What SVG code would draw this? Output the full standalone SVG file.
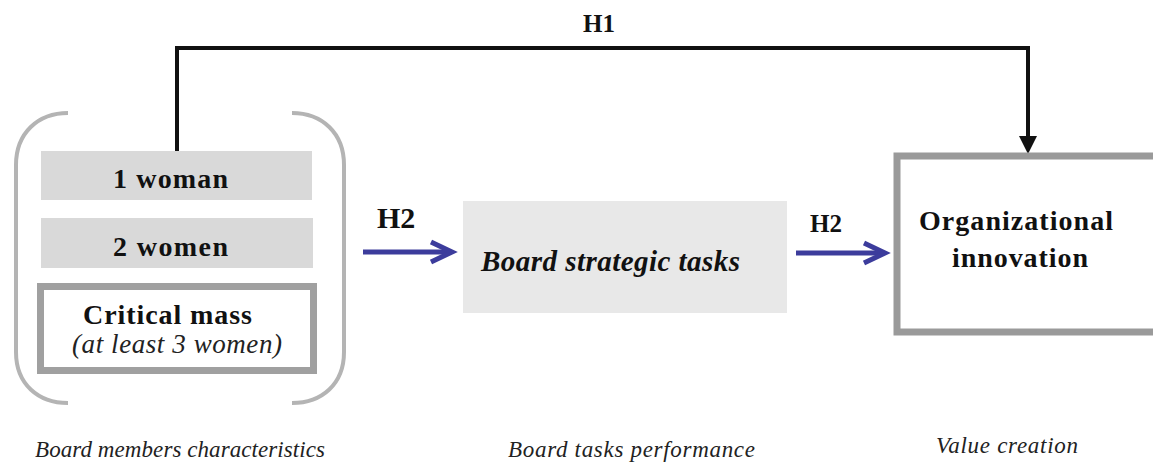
<svg xmlns="http://www.w3.org/2000/svg" width="1153" height="463" viewBox="0 0 1153 463">
<style>
.b{font-family:"Liberation Serif","Times New Roman",serif;font-weight:bold;fill:#111}
.bi{font-family:"Liberation Serif","Times New Roman",serif;font-weight:bold;font-style:italic;fill:#111}
.i{font-family:"Liberation Serif","Times New Roman",serif;font-style:italic;fill:#222}
.blue{stroke:#3c3c9c;stroke-width:5;fill:none}
.grey{fill:#d9d9d9}
</style>
<rect width="1153" height="463" fill="#fff"/>
<g id="connectors">
<polyline points="177,151 177,48 1028,48 1028,138" fill="none" stroke="#111" stroke-width="4"/>
<polygon points="1019,136 1037,136 1028,154" fill="#111"/>
<line x1="363" y1="252" x2="451" y2="252" class="blue"/>
<polyline points="431,242 452,252 431,262" class="blue"/>
<line x1="796" y1="253" x2="884" y2="253" class="blue"/>
<polyline points="864,243 885,253 864,263" class="blue"/>
<text x="583" y="32" class="b" font-size="25">H1</text>
<text x="377" y="228" class="b" font-size="30">H2</text>
<text x="810" y="232" class="b" font-size="25">H2</text>
</g>
<g id="board-members">
<path d="M68,113 C38,113 16,133 16,165 L16,352 C16,384 38,403 68,403" fill="none" stroke="#b4b4b4" stroke-width="4"/>
<path d="M292,113 C322,113 344,133 344,165 L344,352 C344,384 322,403 292,403" fill="none" stroke="#b4b4b4" stroke-width="4"/>
</g>
<g id="one-woman">
<rect x="41" y="151" width="271" height="49" class="grey"/>
<text x="113" y="188" class="b" font-size="28" textLength="115">1 woman</text>
</g>
<g id="two-women">
<rect x="41" y="218" width="272" height="50" class="grey"/>
<text x="113" y="256" class="b" font-size="28" textLength="115">2 women</text>
</g>
<g id="critical-mass">
<rect x="40.5" y="286.5" width="273" height="84" fill="#fff" stroke="#a0a0a0" stroke-width="7"/>
<text x="83" y="324" class="b" font-size="28" textLength="169">Critical mass</text>
<text x="72" y="353" class="i" font-size="27" textLength="210">(at least 3 women)</text>
</g>
<g id="board-strategic-tasks">
<rect x="463" y="201" width="324" height="112" fill="#e8e8e8"/>
<text x="481" y="271" class="bi" font-size="29" textLength="259">Board strategic tasks</text>
</g>
<g id="organizational-innovation">
<rect x="897" y="156" width="270" height="176" fill="#fff" stroke="#9a9a9a" stroke-width="7"/>
<text x="919" y="230" class="b" font-size="28" textLength="194">Organizational</text>
<text x="952" y="267" class="b" font-size="28" textLength="136">innovation</text>
</g>
<g id="labels">
<text x="35" y="457" class="i" font-size="23" textLength="290">Board members characteristics</text>
<text x="508" y="457" class="i" font-size="23" textLength="247">Board tasks performance</text>
<text x="936" y="453" class="i" font-size="23" textLength="142">Value creation</text>
</g>
</svg>
